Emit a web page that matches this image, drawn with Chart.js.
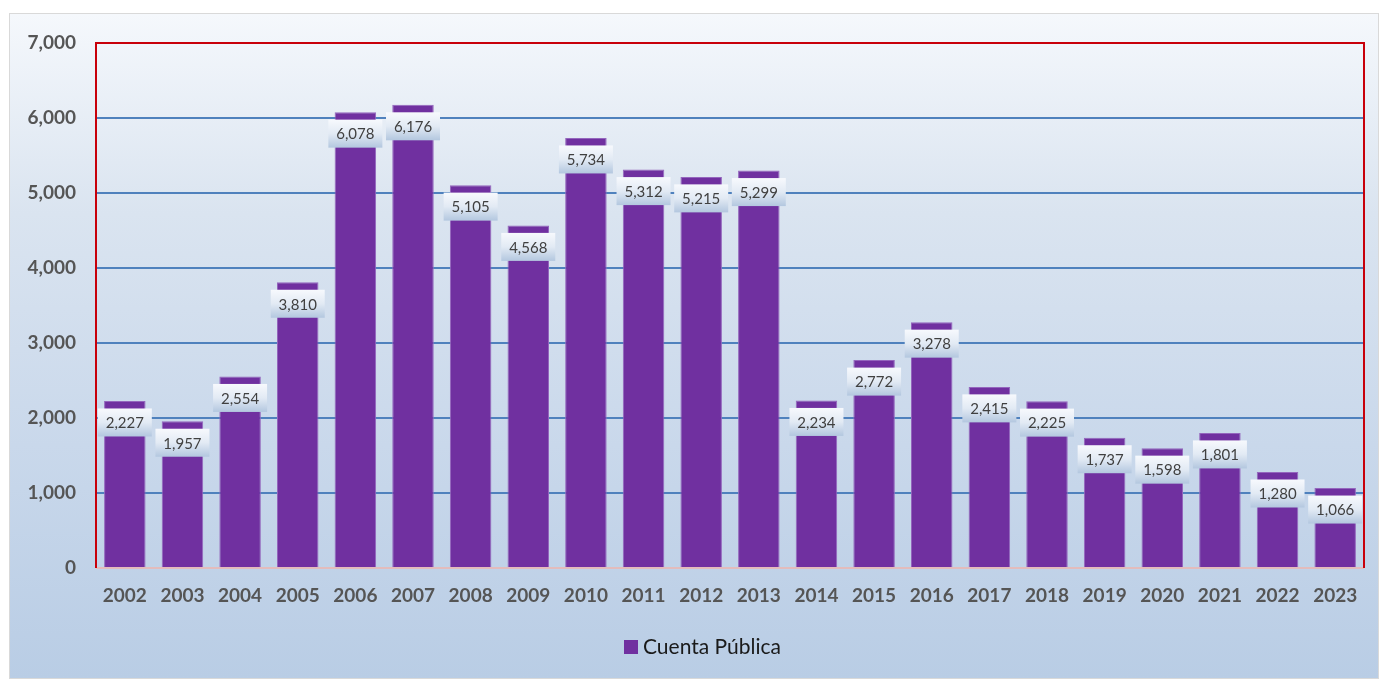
<!DOCTYPE html>
<html>
<head>
<meta charset="utf-8">
<script src="https://cdn.jsdelivr.net/npm/chart.js@4.4.1/dist/chart.umd.min.js"></script>
<style>
  html, body { margin: 0; padding: 0; background: #fff; }
  #frame {
    position: absolute; left: 9px; top: 13px; width: 1368px; height: 664px;
    border: 1px solid #d9d9d9;
    background: linear-gradient(to bottom, #f5f8fc 0%, #dae4f0 30%, #c9d8eb 65%, #b9cde5 100%);
  }
  #wrap { position: absolute; left: 0; top: 0; width: 1381px; height: 679px; }
</style>
</head>
<body>
<div id="frame"></div>
<div id="wrap"><canvas id="chart" width="1381" height="679"></canvas></div>
<script>
const years = ['2002','2003','2004','2005','2006','2007','2008','2009','2010','2011','2012',
               '2013','2014','2015','2016','2017','2018','2019','2020','2021','2022','2023'];
const cuentaPublica = [2227, 1957, 2554, 3810, 6078, 6176, 5105, 4568, 5734, 5312, 5215,
                       5299, 2234, 2772, 3278, 2415, 2225, 1737, 1598, 1801, 1280, 1066];
const seriesName = 'Cuenta Pública';

// etiquetas de valor con caja degradada
const valueLabels = {
  id: 'valueLabels',
  afterDatasetsDraw(chart) {
    const ctx = chart.ctx;
    const meta = chart.getDatasetMeta(0);
    ctx.save();
    ctx.font = '15px Lato';
    ctx.textAlign = 'center';
    ctx.textBaseline = 'middle';
    meta.data.forEach((bar, i) => {
      const w = 54, h = 28;
      const x = bar.x - w / 2;
      const y = bar.y + 7.5;
      const g = ctx.createLinearGradient(0, y, 0, y + h);
      g.addColorStop(0, '#f7f9fd');
      g.addColorStop(0.5, '#e2eaf4');
      g.addColorStop(1, '#b3c7df');
      ctx.fillStyle = g;
      ctx.fillRect(x, y, w, h);
      ctx.fillStyle = '#404040';
      ctx.fillText(cuentaPublica[i].toLocaleString('en-US'), bar.x, y + h / 2 + 1);
    });
    ctx.restore();
  },
  afterDraw(chart) {
    const ctx = chart.ctx;
    const a = chart.chartArea;
    ctx.save();
    // linea base
    ctx.strokeStyle = '#e3bcbc';
    ctx.lineWidth = 2;
    ctx.beginPath();
    ctx.moveTo(a.left, a.bottom);
    ctx.lineTo(a.right, a.bottom);
    ctx.stroke();
    // borde rojo
    ctx.strokeStyle = '#c8000a';
    ctx.beginPath();
    ctx.moveTo(a.left, a.bottom);
    ctx.lineTo(a.left, a.top);
    ctx.lineTo(a.right, a.top);
    ctx.lineTo(a.right, a.bottom);
    ctx.stroke();
    // leyenda
    ctx.fillStyle = '#7030a0';
    ctx.fillRect(624, 640, 14, 14);
    ctx.fillStyle = '#1a1a1a';
    ctx.font = '21px Lato';
    ctx.textBaseline = 'middle';
    ctx.textAlign = 'left';
    ctx.fillText(seriesName, 643, 647);
    ctx.restore();
  }
};

new Chart(document.getElementById('chart'), {
  type: 'bar',
  data: {
    labels: years,
    datasets: [{
      label: seriesName,
      data: cuentaPublica,
      backgroundColor: '#7030a0',
      borderColor: '#9466bd',
      borderWidth: 1,
      barPercentage: 0.72,
      categoryPercentage: 1
    }]
  },
  options: {
    responsive: false,
    animation: false,
    layout: { padding: { top: 43, right: 17, bottom: 0, left: 0 } },
    plugins: { legend: { display: false }, tooltip: { enabled: false } },
    scales: {
      x: {
        grid: { display: false, drawTicks: false },
        border: { display: false },
        ticks: { padding: 16, color: '#555555', font: { family: 'Lato', size: 19, weight: 'bold' } },
        afterFit(s) { s.height = 111; }
      },
      y: {
        min: 0, max: 7000,
        ticks: {
          stepSize: 1000, padding: 20, color: '#555555',
          font: { family: 'Lato', size: 19, weight: 'bold' },
          callback: v => v.toLocaleString('en-US')
        },
        grid: {
          drawTicks: false,
          lineWidth: 2,
          color: c => (c.tick && (c.tick.value === 0 || c.tick.value === 7000)) ? 'rgba(0,0,0,0)' : '#4f81bd'
        },
        border: { display: false },
        afterFit(s) { s.width = 96; }
      }
    }
  },
  plugins: [valueLabels]
});
</script>
</body>
</html>
